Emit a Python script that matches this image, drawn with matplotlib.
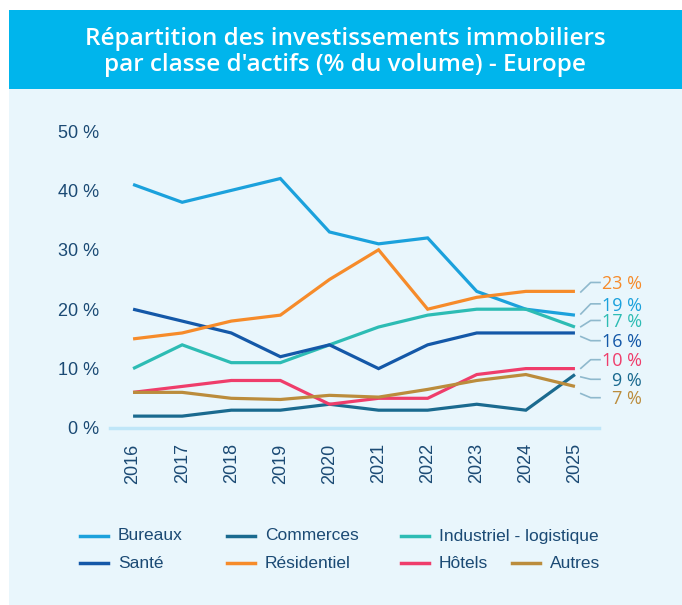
import matplotlib.pyplot as plt
from matplotlib.patches import Rectangle
from matplotlib.lines import Line2D

years = [2016, 2017, 2018, 2019, 2020, 2021, 2022, 2023, 2024, 2025]

bureaux = [41, 38, 40, 42, 33, 31, 32, 23, 20, 19]
commerces = [2, 2, 3, 3, 4, 3, 3, 4, 3, 9]
industriel = [10, 14, 11, 11, 14, 17, 19, 20, 20, 17]
sante = [20, 18, 16, 12, 14, 10, 14, 16, 16, 16]
residentiel = [15, 16, 18, 19, 25, 30, 20, 22, 23, 23]
hotels = [6, 7, 8, 8, 4, 5, 5, 9, 10, 10]
autres = [6, 6, 5, 4.8, 5.5, 5.2, 6.5, 8, 9, 7]

names = ["Bureaux", "Commerces", "Industriel - logistique", "Santé",
         "Résidentiel", "Hôtels", "Autres"]
series = [bureaux, commerces, industriel, sante, residentiel, hotels, autres]
colors = ["#1ba1dc", "#1a6a8f", "#2dbcb4", "#1458a8", "#f68b2a", "#ef3d6b", "#bb8c3c"]

end_labels = ["19 %", "9 %", "17 %", "16 %", "23 %", "10 %", "7 %"]
# label heights and leader line starts (in data units)
label_y = [20.9, 8.2, 18.1, 14.7, 24.5, 11.5, 5.1]
start_y = [19.2, 8.6, 17.05, 15.4, 22.9, 10.05, 5.8]

title = "Répartition des investissements immobiliers\npar classe d'actifs (% du volume) - Europe"

W, H = 682, 605
fig = plt.figure(figsize=(W / 100, H / 100), dpi=100)
fig.patch.set_facecolor("white")

# background panel + header band
fig.patches.append(Rectangle((9 / W, 0), 1 - 9 / W, (H - 89) / H, transform=fig.transFigure,
                             facecolor="#e9f6fc", edgecolor="none", zorder=-10))
fig.patches.append(Rectangle((9 / W, (H - 89) / H), 1 - 9 / W, 79 / H, transform=fig.transFigure,
                             facecolor="#00b5ec", edgecolor="none", zorder=-10))
fig.text(0.5 + 4 / W, 1 - 52 / H, title, ha="center", va="center", color="white",
         fontsize=17.5, fontweight="semibold", family="Open Sans", linespacing=1.1)

txt = "#1b4a74"
ax = fig.add_axes([110 / W, (H - 428) / H, 489 / W, 297 / H])
ax.set_facecolor("none")

for vals, c in zip(series, colors):
    ax.plot(years, vals, color=c, lw=2.3, solid_capstyle="butt", solid_joinstyle="miter", zorder=3)

ax.set_xlim(2015.53, 2025.49)
ax.set_ylim(0, 50)
ax.set_yticks(range(0, 51, 10))
ax.set_yticklabels([f"{v} %" for v in range(0, 51, 10)])
ax.set_xticks(years)
ax.set_xticklabels([str(y) for y in years], rotation=90)
for s in ["top", "right", "left"]:
    ax.spines[s].set_visible(False)
ax.spines["bottom"].set_color("#bfe6f8")
ax.spines["bottom"].set_linewidth(2.5)
ax.tick_params(axis="y", length=0, pad=8, labelsize=13, labelcolor=txt)
ax.tick_params(axis="x", length=0, pad=11, labelsize=13, labelcolor=txt)
for lab in ax.get_xticklabels() + ax.get_yticklabels():
    lab.set_family("Liberation Sans")

# end labels with leader lines
x0 = years[-1]
for lab, ly, sy, c in zip(end_labels, label_y, start_y, colors):
    ax.plot([x0 + 0.12, x0 + 0.32, x0 + 0.51], [sy, ly, ly], color="#8fb9cd", lw=1.2,
            clip_on=False, zorder=2)
    ax.text(x0 + 1.36, ly - 0.3, lab, ha="right", va="center", color=c, fontsize=13,
            family="Open Sans", clip_on=False)

# legend drawn by hand
legend_pos = [(80, 536), (227, 536), (401, 536), (80, 563), (227, 563), (401, 563), (512, 563)]
for (px, py), name, c in zip(legend_pos, names, colors):
    fig.add_artist(Line2D([px / W, (px + 28) / W], [1 - py / H, 1 - py / H],
                          transform=fig.transFigure, color=c, lw=2.5))
    fig.text((px + 38) / W, 1 - py / H, name, ha="left", va="center", color=txt,
             fontsize=12.5, family="Liberation Sans")

fig.savefig("out.png", dpi=100, facecolor=fig.get_facecolor())
